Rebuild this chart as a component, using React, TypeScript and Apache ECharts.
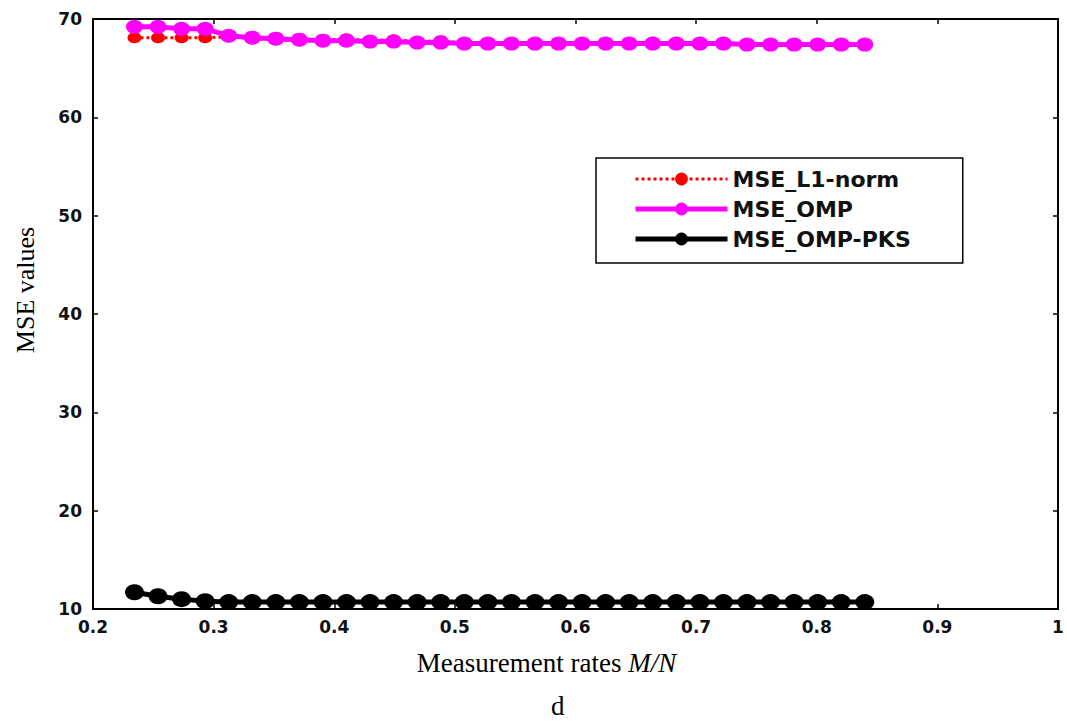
import React, { useEffect, useRef } from 'react';
import * as echarts from 'echarts';

// Measurement rates M/N with N = 256
const N = 256;
const measurements = [60, 65, 70, 75, 80, 85, 90, 95, 100, 105, 110, 115, 120, 125, 130, 135,
  140, 145, 150, 155, 160, 165, 170, 175, 180, 185, 190, 195, 200, 205, 210, 215];

const mseL1 = [68.1, 68.1, 68.1, 68.1, 68.2, 68.0, 67.9, 67.8, 67.8, 68.0, 67.8, 67.9, 67.7, 67.8, 67.5, 67.5,
  67.5, 67.5, 67.5, 67.5, 67.5, 67.5, 67.5, 67.5, 67.5, 67.5, 67.4, 67.4, 67.4, 67.4, 67.4, 67.4];
const mseOMP = [69.2, 69.2, 69.0, 69.0, 68.3, 68.1, 68.0, 67.9, 67.8, 67.8, 67.7, 67.7, 67.6, 67.6, 67.5, 67.5,
  67.5, 67.5, 67.5, 67.5, 67.5, 67.5, 67.5, 67.5, 67.5, 67.5, 67.4, 67.4, 67.4, 67.4, 67.4, 67.4];
const mseOMPPKS = [11.7, 11.3, 11.0, 10.8, 10.7, 10.7, 10.7, 10.7, 10.7, 10.7, 10.7, 10.7, 10.7, 10.7, 10.7, 10.7,
  10.7, 10.7, 10.7, 10.7, 10.7, 10.7, 10.7, 10.7, 10.7, 10.7, 10.7, 10.7, 10.7, 10.7, 10.7, 10.7];

const seriesNames = ['MSE_L1-norm', 'MSE_OMP', 'MSE_OMP-PKS'];
const xAxisTitle = 'Measurement rates ';
const xAxisTitleItalic = 'M/N';
const yAxisTitle = 'MSE values';
const panelLabel = 'd';

const pairs = (ys: number[]) => measurements.map((m, i) => [m / N, ys[i]]);

const tickFont = { fontFamily: 'DejaVu Sans', fontWeight: 'bold' as const, fontSize: 17, color: '#111' };

export default function App() {
  const ref = useRef<HTMLDivElement>(null);
  useEffect(() => {
    if (!ref.current) return;
    const chart = echarts.init(ref.current, null, { renderer: 'svg' });
    const axisLine = { show: true, lineStyle: { color: '#000', width: 2 } };
    const axisTick = { show: true, inside: true, length: 5, lineStyle: { color: '#000', width: 1.5 } };
    chart.setOption({
      animation: false,
      backgroundColor: '#fff',
      grid: { left: 93, right: 9, top: 19, bottom: 115, containLabel: false },
      xAxis: [
        {
          type: 'value', min: 0.2, max: 1, interval: 0.1, position: 'bottom',
          axisLine, axisTick, splitLine: { show: false },
          axisLabel: { ...tickFont, margin: 9, formatter: (v: number) => (Math.abs(v - 1) < 1e-9 ? '1' : v.toFixed(1)) },
          name: xAxisTitle + '{i|' + xAxisTitleItalic + '}',
          nameLocation: 'middle', nameGap: 40,
          nameTextStyle: {
            fontFamily: 'Liberation Serif', fontSize: 27, color: '#000', padding: [0, 58, 0, 0],
            rich: { i: { fontFamily: 'Liberation Serif', fontStyle: 'italic', fontSize: 27, color: '#000' } },
          },
        },
        {
          type: 'value', min: 0.2, max: 1, interval: 0.1, position: 'top',
          axisLine, axisTick, axisLabel: { show: false }, splitLine: { show: false },
        },
      ],
      yAxis: [
        {
          type: 'value', min: 10, max: 70, interval: 10, position: 'left',
          axisLine, axisTick, splitLine: { show: false },
          axisLabel: { ...tickFont, margin: 11 },
          name: yAxisTitle, nameLocation: 'middle', nameGap: 55,
          nameTextStyle: { fontFamily: 'Liberation Serif', fontSize: 26, color: '#000', padding: [0, 0, 0, 48] },
        },
        {
          type: 'value', min: 10, max: 70, interval: 10, position: 'right',
          axisLine, axisTick, axisLabel: { show: false }, splitLine: { show: false },
        },
      ],
      legend: {
        orient: 'vertical', left: 596, top: 158,
        padding: [10, 52, 13, 37],
        itemWidth: 92, itemHeight: 16, itemGap: 8,
        backgroundColor: '#fff', borderColor: '#000', borderWidth: 1.5, borderRadius: 0,
        textStyle: { fontFamily: 'DejaVu Sans', fontWeight: 'bold', fontSize: 22, color: '#111' },
        data: [
          { name: seriesNames[0], lineStyle: { width: 3, type: 'dotted', color: '#ff0000' } },
          { name: seriesNames[1], lineStyle: { width: 5, color: '#ff00ff' } },
          { name: seriesNames[2], lineStyle: { width: 5, color: '#000' } },
        ],
      },
      series: [
        {
          type: 'line', name: seriesNames[0], data: pairs(mseL1), z: 2,
          symbol: 'circle', symbolSize: [14, 11],
          lineStyle: { color: '#ff0000', width: 3, type: 'dotted' },
          itemStyle: { color: '#ff0000' },
        },
        {
          type: 'line', name: seriesNames[1], data: pairs(mseOMP), z: 3,
          symbol: 'circle', symbolSize: [17, 14],
          lineStyle: { color: '#ff00ff', width: 5 },
          itemStyle: { color: '#ff00ff' },
        },
        {
          type: 'line', name: seriesNames[2], data: pairs(mseOMPPKS), z: 4,
          symbol: 'circle', symbolSize: [19, 16],
          lineStyle: { color: '#000', width: 5 },
          itemStyle: { color: '#000' },
        },
      ],
      graphic: [
        {
          type: 'text', left: 551, top: 692,
          style: { text: panelLabel, fontFamily: 'Liberation Serif', fontSize: 27, fill: '#000' },
        },
      ],
    });
    return () => chart.dispose();
  }, []);
  return <div ref={ref} style={{ position: 'fixed', left: 0, top: 0, width: 1067, height: 724 }} />;
}
